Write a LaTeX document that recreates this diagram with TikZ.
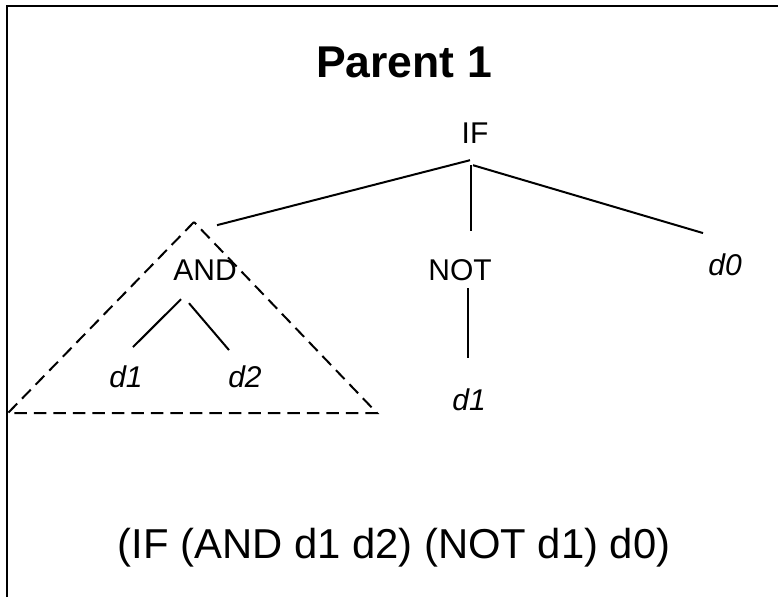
\documentclass[tikz,border=0pt]{standalone}
\usepackage{fontspec}
\setmainfont{Liberation Sans}

\begin{document}
\begin{tikzpicture}[x=1pt,y=-1pt,
  labelsty/.style={anchor=base,inner sep=0pt,font=\fontsize{30}{36}\selectfont},
  leafsty/.style={labelsty,font=\fontsize{30}{36}\selectfont\itshape},
  titlesty/.style={anchor=base,inner sep=0pt,font=\fontsize{44.5}{52}\selectfont\bfseries},
  exprsty/.style={anchor=base,inner sep=0pt,font=\fontsize{41.8}{50}\selectfont},
  link/.style={line width=2pt},
  subtree/.style={line width=2pt,dash pattern=on 12.5pt off 7pt}]

  \useasboundingbox (0,0) rectangle (778,597);
  \draw[line width=2.5pt] (7,597) -- (7,6) -- (778,6);

  \node[titlesty] (title) at (404,77) {Parent 1};

  % the tree
  \node[labelsty] (iff) at (475,143) {IF};
  \node[labelsty] (andn) at (205,280) {AND};
  \node[labelsty] (notn) at (460,280) {NOT};
  \node[leafsty] (dzero) at (725,275) {d0};
  \node[leafsty] (done) at (126,387) {d1};
  \node[leafsty] (dtwo) at (245,387) {d2};
  \node[leafsty] (dnot) at (469,410) {d1};

  \draw[link] ([xshift=-5pt,yshift=-17pt]iff.south) -- ([xshift=12pt,yshift=34pt]andn.north);
  \draw[link] ([xshift=-4pt,yshift=-22pt]iff.south) -- ([xshift=11pt,yshift=28pt]notn.north);
  \draw[link] ([xshift=-2pt,yshift=-22pt]iff.south) -- ([xshift=-22pt,yshift=20pt]dzero.north);
  \draw[link] ([xshift=-24pt,yshift=-19pt]andn.south) -- ([xshift=7pt,yshift=18pt]done.north);
  \draw[link] ([xshift=-16pt,yshift=-23pt]andn.south) -- ([xshift=-16pt,yshift=15pt]dtwo.north);
  \draw[link] ([xshift=8pt,yshift=-8pt]notn.south) -- ([xshift=-1pt,yshift=30pt]dnot.north);

  % subtree picked for crossover
  \coordinate (top) at (194,222);
  \coordinate (bl) at (8,413);
  \coordinate (br) at (377,413);
  \draw[subtree] (top) -- (bl) -- (br) -- cycle;

  \node[exprsty] (expr) at (394,558) {(IF (AND d1 d2) (NOT d1) d0)};

\end{tikzpicture}
\end{document}
